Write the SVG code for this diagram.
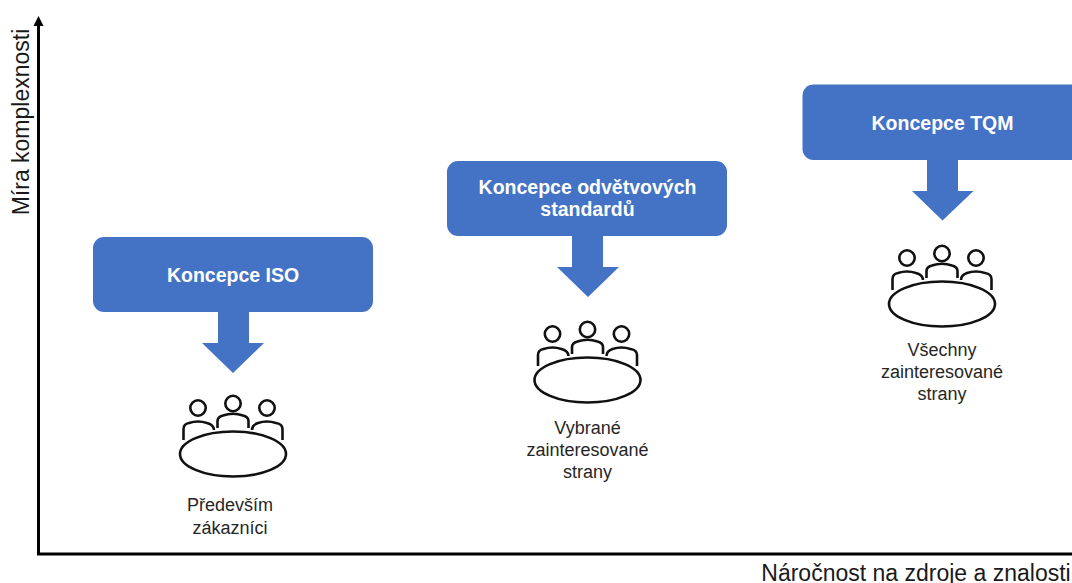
<svg xmlns="http://www.w3.org/2000/svg" xmlns:xlink="http://www.w3.org/1999/xlink" width="1072" height="583" viewBox="0 0 1072 583">
<style>
text{font-family:"Liberation Sans",Arial,sans-serif;text-anchor:middle}
.t{font-size:19.500px;font-weight:700;fill:#fff}
.l{font-size:18px;fill:#262626}
.a{font-size:23px;fill:#1a1a1a}
.b{fill:#4472c4}
.i{fill:none;stroke:#111;stroke-width:2.6}
.e{fill:#fff;stroke:#111;stroke-width:2.6}
.x{fill:none;stroke:#000;stroke-width:3}
</style>
<defs>
<g id="people">
<circle class="i" cx="198" cy="408" r="7.700"/>
<circle class="i" cx="233" cy="403.500" r="7.700"/>
<circle class="i" cx="267" cy="408" r="7.700"/>
<path class="i" d="M183.500 440V429Q183.500 424 189 423Q198 420 207 423Q214 425 214 430"/>
<path class="i" d="M217.500 428V421Q217.500 417 223 415.500Q233 412 243 415.500Q248.500 417 248.500 421V428"/>
<path class="i" d="M252 430Q252 425 258 423Q267 420 276 423Q282.500 424 282.500 429V440"/>
<ellipse class="e" cx="233" cy="454" rx="53" ry="22.500"/>
</g>
</defs>
<g id="connectors">
<path class="x" d="M38.500 24V554H1072"/>
<path d="M33.500 26L38.500 16L43.500 26Z" fill="#000"/>
</g>
<g id="axis-y"><text class="a" transform="translate(28.500 122) rotate(-90)">Míra komplexnosti</text></g>
<g id="axis-x"><text class="a" x="916" y="581">Náročnost na zdroje a znalosti</text></g>
<g id="iso">
<rect class="b" x="93" y="237" width="280" height="75" rx="11"/>
<path class="b" d="M218 312H249V343H264L233 373L202 343H218Z"/>
<text class="t" x="233" y="282">Koncepce ISO</text>
<use href="#people"/>
<text class="l"><tspan x="230" y="511">Především</tspan><tspan x="230" y="534">zákazníci</tspan></text>
</g>
<g id="odvetvove">
<rect class="b" x="447" y="161" width="280" height="75" rx="11"/>
<path class="b" d="M572 236H603V267H619L588 297L557 267H572Z"/>
<text class="t"><tspan x="587.500" y="194">Koncepce odvětvových</tspan><tspan x="587.500" y="216">standardů</tspan></text>
<use href="#people" x="354.500" y="-74"/>
<text class="l"><tspan x="587.500" y="434">Vybrané</tspan><tspan x="587.500" y="456">zainteresované</tspan><tspan x="587.500" y="478">strany</tspan></text>
</g>
<g id="tqm">
<rect class="b" x="802.500" y="84.500" width="290" height="75.500" rx="11"/>
<path class="b" d="M927 160H958V191H973.500L942.500 220.500L912 191H927Z"/>
<text class="t" x="942.500" y="130">Koncepce TQM</text>
<use href="#people" x="709" y="-150"/>
<text class="l"><tspan x="942" y="356">Všechny</tspan><tspan x="942" y="378">zainteresované</tspan><tspan x="942" y="400">strany</tspan></text>
</g>
</svg>
